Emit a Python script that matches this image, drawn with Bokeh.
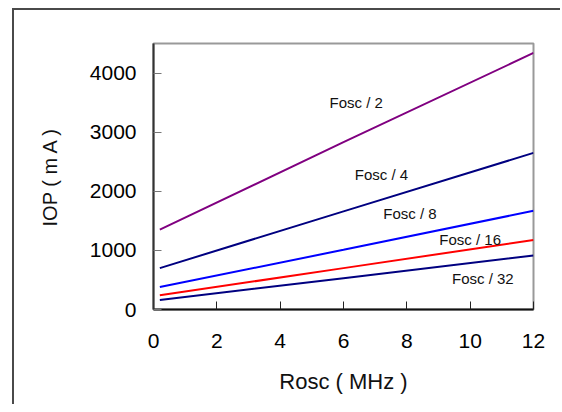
from bokeh.plotting import figure
from bokeh.models import Range1d, FixedTicker, Label
from bokeh.embed import file_html
from bokeh.resources import INLINE

# ---- data ----
rosc = [0.2, 6, 12]
fosc_2 = [1350, 2830, 4340]
fosc_4 = [700, 1660, 2650]
fosc_8 = [380, 1010, 1670]
fosc_16 = [240, 700, 1175]
fosc_32 = [160, 530, 915]

series_names = ["Fosc / 2", "Fosc / 4", "Fosc / 8", "Fosc / 16", "Fosc / 32"]
series_vals = [fosc_2, fosc_4, fosc_8, fosc_16, fosc_32]
series_colors = ["#800080", "#000080", "#0000FF", "#FF0000", "#000080"]
label_x = [6.4, 7.2, 8.1, 10.0, 10.4]
label_y = [3510, 2280, 1620, 1180, 520]

x_ticks = [0, 2, 4, 6, 8, 10, 12]
y_ticks = [0, 1000, 2000, 3000, 4000]

FONT = "Liberation Sans"

p = figure(frame_width=380, frame_height=266,
           min_border_left=139, min_border_right=29,
           min_border_top=33, min_border_bottom=97,
           x_range=Range1d(0, 12), y_range=Range1d(0, 4500),
           output_backend="svg", toolbar_location=None)
# outer picture border: only its left and top edges fall inside the window
p.styles = {"margin-left": "14px", "margin-top": "10px",
            "box-shadow": "-2px -2px 0px 0px #4a4a4a"}

p.xgrid.visible = False
p.ygrid.visible = False
p.outline_line_color = "#999999"
p.outline_line_width = 2
p.background_fill_color = "white"
p.border_fill_color = "white"

for ax in (p.xaxis[0], p.yaxis[0]):
    ax.major_label_text_font = FONT
    ax.major_label_text_font_size = "21px"
    ax.major_label_text_color = "black"
    ax.major_tick_in = 8
    ax.major_tick_out = 0
    ax.minor_tick_in = 0
    ax.minor_tick_out = 0
    ax.axis_line_width = 2
    ax.axis_label_text_font = FONT
    ax.axis_label_text_font_style = "normal"
    ax.axis_label_text_color = "#111111"

p.xaxis[0].ticker = FixedTicker(ticks=x_ticks)
p.yaxis[0].ticker = FixedTicker(ticks=y_ticks)
p.xaxis[0].axis_line_color = "#111111"
p.xaxis[0].major_tick_line_color = "#222222"
p.yaxis[0].axis_line_color = "#333333"
p.yaxis[0].major_tick_line_color = "#777777"
p.xaxis[0].major_label_standoff = 24
p.yaxis[0].major_label_standoff = 17

p.xaxis[0].axis_label = "Rosc ( MHz )"
p.xaxis[0].axis_label_text_font_size = "22px"
p.xaxis[0].axis_label_standoff = 18

p.yaxis[0].axis_label = "IOP ( m A )"
p.yaxis[0].axis_label_text_font_size = "20px"
p.yaxis[0].axis_label_standoff = 26

for name, vals, col in zip(series_names, series_vals, series_colors):
    p.line(rosc, vals, line_color=col, line_width=2)

for name, lx, ly in zip(series_names, label_x, label_y):
    p.add_layout(Label(x=lx, y=ly, text=name, text_font=FONT, text_font_size="15px",
                       text_align="center", text_baseline="middle", text_color="#111111"))

open("out.html", "w").write(file_html(p, INLINE))
